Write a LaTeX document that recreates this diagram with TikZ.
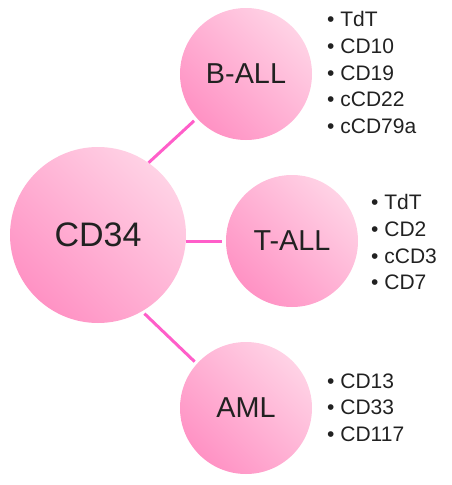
\documentclass[tikz,border=0pt]{standalone}
\usepackage{fontspec}
\setmainfont{Liberation Sans}
\begin{document}
\begin{tikzpicture}[x=1pt,y=-1pt,
  bub/.style={circle, inner sep=0pt, text=black!87, shading=axis,
    bottom color=pinkdark, top color=pinklight, shading angle=-45},
  link/.style={draw=linkpink, line width=3pt},
  lst/.style={anchor=north west, inner sep=0pt, align=left, text=black!87,
    font=\fontsize{21}{26.6}\selectfont}]
\definecolor{pinkdark}{HTML}{FF92C4}
\definecolor{pinklight}{HTML}{FFD2E5}
\definecolor{linkpink}{HTML}{FF5EC9}
\useasboundingbox (0,0) rectangle (451,485);
\node[bub, minimum size=176pt, font=\fontsize{34}{40}\selectfont] (cd) at (98,235) {CD34};
\node[bub, minimum size=132pt, font=\fontsize{28.8}{34}\selectfont] (b) at (246,74) {B-ALL};
\node[bub, minimum size=132pt, font=\fontsize{28.8}{34}\selectfont] (t) at (292,241) {T-ALL};
\node[bub, minimum size=132pt, font=\fontsize{28.8}{34}\selectfont] (a) at (246,408) {AML};
\draw[link, shorten >=3.7pt] (cd.55) -- (b.222);
\draw[link, shorten >=4.3pt] (t.west -| cd.east) -- (t.west);
\draw[link, shorten <=3.2pt, shorten >=3pt] (cd.300) -- (a.138);
\node[lst] (bl) at (327,11.5) {• TdT\\• CD10\\• CD19\\• cCD22\\• cCD79a};
\node[lst] (tl) at (371,194.5) {• TdT\\• CD2\\• cCD3\\• CD7};
\node[lst] (al) at (327,373.5) {• CD13\\• CD33\\• CD117};
\end{tikzpicture}
\end{document}
